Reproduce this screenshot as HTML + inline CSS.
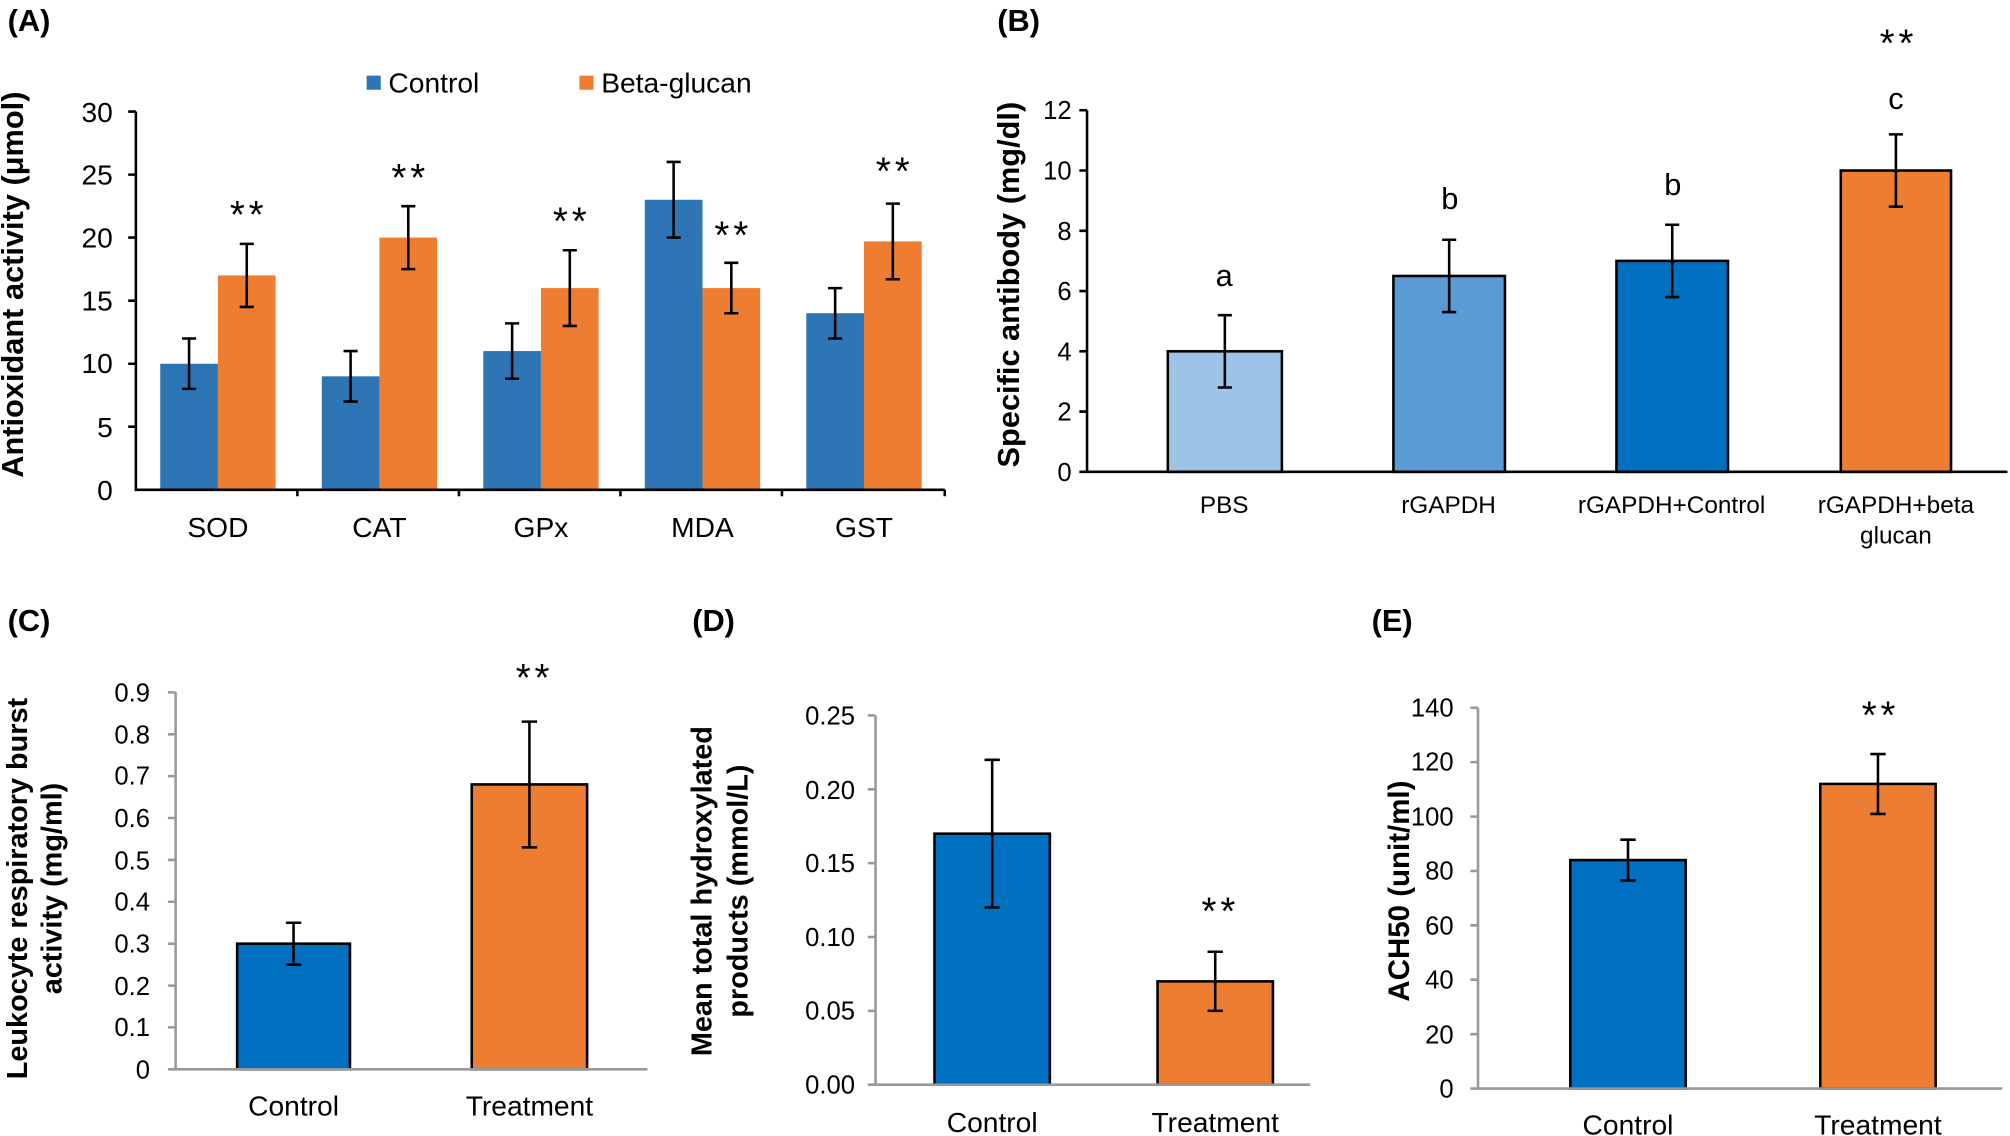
<!DOCTYPE html><html><head><style>html,body{margin:0;padding:0;background:#fff}svg{display:block}text{font-family:"Liberation Sans",Arial,sans-serif;fill:#000}.st{font-size:30px;letter-spacing:3px}</style></head><body>
<svg width="2010" height="1136" viewBox="0 0 1568 886" preserveAspectRatio="none" xmlns="http://www.w3.org/2000/svg">
<!-- Panel A -->
<text x="6" y="24" font-size="24" font-weight="bold">(A)</text>
<rect x="286" y="59" width="11" height="11" fill="#2e75b6"/><text x="303" y="72" font-size="22">Control</text>
<rect x="452" y="59" width="11" height="11" fill="#ed7d31"/><text x="469" y="72" font-size="22">Beta-glucan</text>
<g fill="#2e75b6"><rect x="125" y="283.7" width="45" height="98.3"/><rect x="251" y="293.5" width="45" height="88.5"/><rect x="377" y="273.8" width="45" height="108.2"/><rect x="503" y="155.8" width="45" height="226.2"/><rect x="629" y="244.3" width="45" height="137.7"/></g>
<g fill="#ed7d31"><rect x="170" y="214.8" width="45" height="167.2"/><rect x="296" y="185.3" width="45" height="196.7"/><rect x="422" y="224.7" width="45" height="157.3"/><rect x="548" y="224.7" width="45" height="157.3"/><rect x="674" y="188.3" width="45" height="193.7"/></g>
<g stroke="#000" stroke-width="2" fill="none">
<path d="M106 87V382H737M100 87H106M100 136.2H106M100 185.3H106M100 234.5H106M100 283.7H106M100 332.8H106M232 382v5M358 382v5M484 382v5M610 382v5M737 382v5"/>
<path d="M147.5 264V303.3M142 264h11M142 303.3h11M273.5 273.8V313.2M268 273.8h11M268 313.2h11M399.5 252.2V295.4M394 252.2h11M394 295.4h11M525.5 126.3V185.3M520 126.3h11M520 185.3h11M651.5 224.7V264M646 224.7h11M646 264h11"/>
<path d="M192.5 190.2V239.4M187 190.2h11M187 239.4h11M318.5 160.8V209.9M313 160.8h11M313 209.9h11M444.5 195.2V254.2M439 195.2h11M439 254.2h11M570.5 205V244.3M565 205h11M565 244.3h11M696.5 158.8V217.8M691 158.8h11M691 217.8h11"/>
</g>
<g font-size="22" text-anchor="end"><text x="88" y="95">30</text><text x="88" y="144">25</text><text x="88" y="193">20</text><text x="88" y="242">15</text><text x="88" y="291">10</text><text x="88" y="341">5</text><text x="88" y="390">0</text></g>
<g font-size="22" text-anchor="middle"><text x="170" y="419">SOD</text><text x="296" y="419">CAT</text><text x="422" y="419">GPx</text><text x="548" y="419">MDA</text><text x="674" y="419">GST</text></g>
<g class="st" text-anchor="middle"><text x="194" y="178">**</text><text x="320" y="149">**</text><text x="446" y="183">**</text><text x="572" y="194">**</text><text x="698" y="144">**</text></g>
<text transform="translate(18,222) rotate(-90)" font-size="24" font-weight="bold" text-anchor="middle">Antioxidant activity (μmol)</text>
<!-- Panel B -->
<text x="778" y="24" font-size="24" font-weight="bold">(B)</text>
<g stroke="#000" stroke-width="2"><rect x="911" y="274" width="89" height="94" fill="#9dc3e6"/><rect x="1087" y="215.25" width="87" height="152.75" fill="#5b9bd5"/><rect x="1261" y="203.5" width="87" height="164.5" fill="#0070c0"/><rect x="1436" y="133" width="86" height="235" fill="#ed7d31"/></g>
<g stroke="#000" stroke-width="2" fill="none"><path d="M848 86V368H1566M842 86h6M842 133h6M842 180h6M842 227h6M842 274h6M842 321h6M842 368h6"/>
<path d="M955.5 245.8V302.2M950 245.8h11M950 302.2h11M1130.5 187V243.4M1125 187h11M1125 243.4h11M1304.5 175.3V231.7M1299 175.3h11M1299 231.7h11M1479 104.8V161.2M1473.5 104.8h11M1473.5 161.2h11"/></g>
<g font-size="20" text-anchor="end"><text x="836" y="93">12</text><text x="836" y="140">10</text><text x="836" y="187">8</text><text x="836" y="234">6</text><text x="836" y="281">4</text><text x="836" y="328">2</text><text x="836" y="375">0</text></g>
<g font-size="19" text-anchor="middle"><text x="955" y="400">PBS</text><text x="1130" y="400">rGAPDH</text><text x="1304" y="400">rGAPDH+Control</text><text x="1479" y="400">rGAPDH+beta</text><text x="1479" y="424">glucan</text></g>
<g font-size="24" text-anchor="middle"><text x="955" y="223">a</text><text x="1131" y="163">b</text><text x="1305" y="152">b</text><text x="1479" y="85">c</text></g>
<text x="1481" y="44" class="st" text-anchor="middle">**</text>
<text transform="translate(795,222) rotate(-90)" font-size="24" font-weight="bold" text-anchor="middle">Specific antibody (mg/dl)</text>
<!-- Panel C -->
<text x="6" y="492" font-size="24" font-weight="bold">(C)</text>
<rect x="185" y="736" width="88" height="98" fill="#0070c0" stroke="#000" stroke-width="2"/><rect x="368" y="611.8" width="90" height="222.2" fill="#ed7d31" stroke="#000" stroke-width="2"/>
<path d="M137 540V834H505" stroke="#999" stroke-width="2" fill="none"/>
<path d="M131 540h6M131 572.7h6M131 605.3h6M131 638h6M131 670.7h6M131 703.3h6M131 736h6M131 768.7h6M131 801.3h6M131 834h6" stroke="#999" stroke-width="2"/>
<g stroke="#000" stroke-width="2"><path d="M229 719.7V752.3M223 719.7h12M223 752.3h12M413 562.8V660.9M407 562.8h12M407 660.9h12"/></g>
<g font-size="20" text-anchor="end"><text x="117" y="547">0.9</text><text x="117" y="580">0.8</text><text x="117" y="612">0.7</text><text x="117" y="645">0.6</text><text x="117" y="678">0.5</text><text x="117" y="710">0.4</text><text x="117" y="743">0.3</text><text x="117" y="776">0.2</text><text x="117" y="808">0.1</text><text x="117" y="841">0</text></g>
<g font-size="22" text-anchor="middle"><text x="229" y="870">Control</text><text x="413" y="870">Treatment</text></g>
<text x="417" y="539" class="st" text-anchor="middle">**</text>
<g font-size="22.5" font-weight="bold" text-anchor="middle"><text transform="translate(21,693) rotate(-90)">Leukocyte respiratory burst</text><text transform="translate(48,693) rotate(-90)">activity (mg/ml)</text></g>
<!-- Panel D -->
<text x="540" y="492" font-size="24" font-weight="bold">(D)</text>
<rect x="729" y="650.2" width="90" height="195.8" fill="#0070c0" stroke="#000" stroke-width="2"/><rect x="903" y="765.4" width="90" height="80.6" fill="#ed7d31" stroke="#000" stroke-width="2"/>
<path d="M683 558V846H1022" stroke="#999" stroke-width="2" fill="none"/>
<path d="M677 558h6M677 615.6h6M677 673.2h6M677 730.8h6M677 788.4h6M677 846h6" stroke="#999" stroke-width="2"/>
<g stroke="#000" stroke-width="2"><path d="M774 592.6V707.8M768 592.6h12M768 707.8h12M948 742.3V788.4M942 742.3h12M942 788.4h12"/></g>
<g font-size="20" text-anchor="end"><text x="667" y="565">0.25</text><text x="667" y="623">0.20</text><text x="667" y="680">0.15</text><text x="667" y="738">0.10</text><text x="667" y="795">0.05</text><text x="667" y="853">0.00</text></g>
<g font-size="22" text-anchor="middle"><text x="774" y="883">Control</text><text x="948" y="883">Treatment</text></g>
<text x="952" y="721" class="st" text-anchor="middle">**</text>
<g font-size="22.5" font-weight="bold" text-anchor="middle"><text transform="translate(555,695) rotate(-90)">Mean total hydroxylated</text><text transform="translate(583,695) rotate(-90)">products (mmol/L)</text></g>
<!-- Panel E -->
<text x="1070" y="492" font-size="24" font-weight="bold">(E)</text>
<rect x="1225" y="670.8" width="90" height="178.2" fill="#0070c0" stroke="#000" stroke-width="2"/><rect x="1420" y="611.4" width="90" height="237.6" fill="#ed7d31" stroke="#000" stroke-width="2"/>
<path d="M1153 552V849H1562" stroke="#999" stroke-width="2" fill="none"/>
<path d="M1147 552h6M1147 594.4h6M1147 636.9h6M1147 679.3h6M1147 721.7h6M1147 764.1h6M1147 806.6h6M1147 849h6" stroke="#999" stroke-width="2"/>
<g stroke="#000" stroke-width="2"><path d="M1270 654.9V686.7M1264 654.9h12M1264 686.7h12M1465 588.1V634.8M1459 588.1h12M1459 634.8h12"/></g>
<g font-size="20" text-anchor="end"><text x="1134" y="559">140</text><text x="1134" y="601">120</text><text x="1134" y="644">100</text><text x="1134" y="686">80</text><text x="1134" y="729">60</text><text x="1134" y="771">40</text><text x="1134" y="814">20</text><text x="1134" y="856">0</text></g>
<g font-size="22" text-anchor="middle"><text x="1270" y="885">Control</text><text x="1465" y="885">Treatment</text></g>
<text x="1467" y="568" class="st" text-anchor="middle">**</text>
<text transform="translate(1099,695) rotate(-90)" font-size="23" font-weight="bold" text-anchor="middle">ACH50 (unit/ml)</text>
</svg>
</body></html>
